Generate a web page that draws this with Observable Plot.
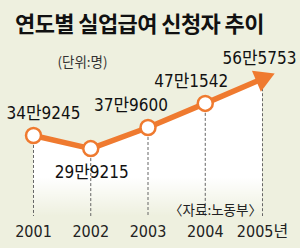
<!DOCTYPE html>
<html><head><meta charset="utf-8">
<script src="https://cdn.jsdelivr.net/npm/d3@7"></script>
<script src="https://cdn.jsdelivr.net/npm/@observablehq/plot@0.6"></script>
<style>
html,body{margin:0;padding:0;background:#eef0df;}
#wrap{width:300px;height:248px;overflow:hidden;background:#eef0df;}
#title{height:44px;box-sizing:border-box;padding:9px 0 0 15px;font:bold 22px "Noto Sans CJK KR",sans-serif;color:#111;line-height:26px;letter-spacing:-0.6px;white-space:nowrap;}
#chart svg{display:block;}
</style></head><body>
<div id="wrap"><div id="title"></div><div id="chart"></div></div>
<script>
const titleText = "연도별 실업급여 신청자 추이";
const unitNote = "(단위:명)";
const sourceNote = "〈자료:노동부〉";
const years = [2001, 2002, 2003, 2004, 2005];
const applicants = [349245, 299215, 379600, 471542, 565753];
const yearLabels = ["2001", "2002", "2003", "2004", "2005년"];

// layout (not data): value-label offsets in px
const labelDx = [10, 1, -17, -14, -3];
const labelDy = [-22, 24, -22, -22, -20];

document.getElementById("title").textContent = titleText;

const data = years.map((year, i) => ({year, value: applicants[i]}));
const fmt = v => `${Math.floor(v / 10000)}만${v % 10000}`;
const narrow = '"Liberation Sans Narrow","Arial Narrow","DejaVu Sans Condensed","Noto Sans CJK KR",sans-serif';
const orange = "#ef7a2f";
const base = 40000;

const defs = () => {
  const d = d3.create("svg:defs");
  const g = d.append("linearGradient").attr("id", "fade").attr("x1", 0).attr("y1", 0).attr("x2", 0).attr("y2", 1);
  g.append("stop").attr("offset", "0").attr("stop-color", "#fff");
  g.append("stop").attr("offset", "0.72").attr("stop-color", "#fff");
  g.append("stop").attr("offset", "1").attr("stop-color", "#fff").attr("stop-opacity", 0);
  return d.node();
};

const plot = Plot.plot({
  width: 300,
  height: 204,
  marginLeft: 33,
  marginRight: 38,
  marginTop: 20,
  marginBottom: 32,
  style: {background: "transparent", color: "#222", overflow: "visible"},
  x: {domain: [2001, 2005], axis: null},
  y: {domain: [base, 620000], axis: null},
  marks: [
    defs,
    Plot.areaY(data, {x: "year", y1: base, y2: "value", fill: "url(#fade)"}),
    Plot.ruleX(data, {x: "year", y1: "value", y2: base, stroke: "#666", strokeWidth: 1, strokeDasharray: "3,2"}),
    Plot.line(data, {x: "year", y: "value", stroke: orange, strokeWidth: 5.5}),
    Plot.dot(data.slice(0, 4), {x: "year", y: "value", r: 7.5, fill: "#fff", stroke: orange, strokeWidth: 2.5}),
    Plot.dot(data.slice(4), {x: "year", y: "value", symbol: "triangle", r: 8.5, fill: orange, rotate: 67}),
    ...data.map((d, i) => Plot.text([d], {
      x: "year", y: "value", text: d => fmt(d.value),
      dx: labelDx[i], dy: labelDy[i],
      fontSize: 17, fontFamily: narrow, fill: "#111"
    })),
    Plot.axisX({ticks: years, tickFormat: d => yearLabels[years.indexOf(d)], tickSize: 0, tickPadding: 9,
      fontSize: 16, fontFamily: narrow, label: null}),
    Plot.text([unitNote], {frameAnchor: "top-left", dx: 49, dy: -7, textAnchor: "middle",
      fontSize: 13.5, fontFamily: '"Noto Sans CJK KR",sans-serif', fill: "#333"}),
    Plot.text([sourceNote], {frameAnchor: "top-left", dx: 182, dy: 141, textAnchor: "middle",
      fontSize: 13.5, fontFamily: '"Noto Sans CJK KR",sans-serif', fill: "#222"})
  ]
});
document.getElementById("chart").appendChild(plot);
</script>
</body></html>
